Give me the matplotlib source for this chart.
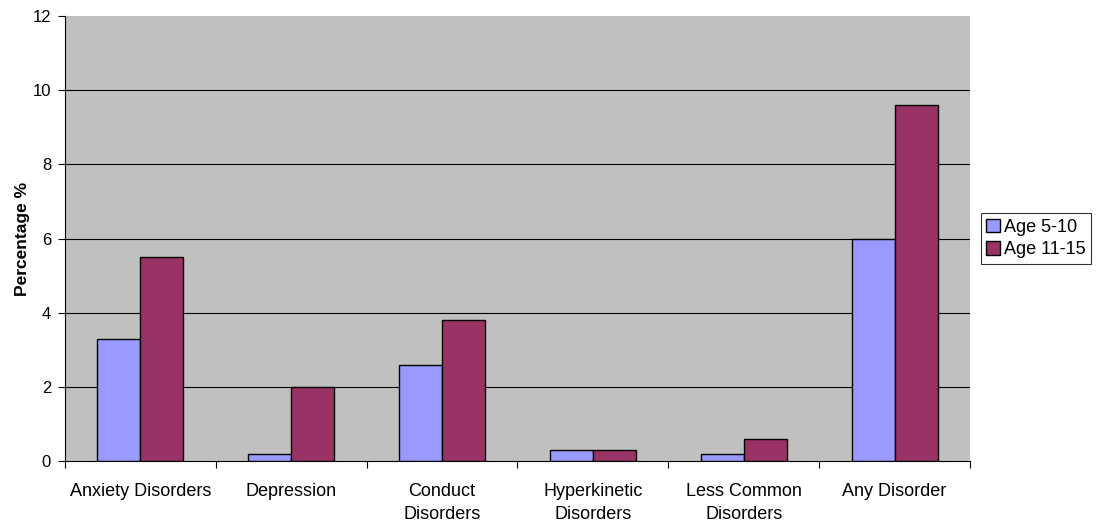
import matplotlib.pyplot as plt
import numpy as np

categories = ["Anxiety Disorders", "Depression", "Conduct\nDisorders",
              "Hyperkinetic\nDisorders", "Less Common\nDisorders", "Any Disorder"]
age_5_10 = [3.3, 0.2, 2.6, 0.3, 0.2, 6.0]
age_11_15 = [5.5, 2.0, 3.8, 0.3, 0.6, 9.6]
series_labels = ["Age 5-10", "Age 11-15"]
y_ticks = [0, 2, 4, 6, 8, 10, 12]

plt.rcParams['font.family'] = ['Liberation Sans', 'DejaVu Sans']

fig = plt.figure(figsize=(10.96, 5.22), dpi=100)
ax = fig.add_axes([0.0593, 0.1169, 0.8257, 0.8524])
ax.set_facecolor('#C0C0C0')

x = np.arange(len(categories))
w = 0.285
ax.bar(x - w/2, age_5_10, w, color='#9999FF', edgecolor='black', linewidth=1, label=series_labels[0], zorder=3)
ax.bar(x + w/2, age_11_15, w, color='#993366', edgecolor='black', linewidth=1, label=series_labels[1], zorder=3)

ax.set_xlim(-0.5, len(categories) - 0.5)
ax.set_ylim(0, 12)
ax.set_yticks(y_ticks)
ax.tick_params(axis='y', labelsize=12, direction='out', length=5, width=0.8, pad=5)
ax.yaxis.grid(True, color='black', linewidth=0.8, zorder=1)
ax.get_ygridlines()[-1].set_visible(False)
ax.get_ygridlines()[0].set_visible(False)

# category labels centred, separator ticks between groups
ax.set_xticks(x)
ax.set_xticklabels(categories, fontsize=13, linespacing=1.45)
ax.tick_params(axis='x', length=0, pad=16)
ax.set_xticks(np.arange(len(categories) + 1) - 0.5, minor=True)
ax.tick_params(axis='x', which='minor', direction='out', length=5, width=0.8)

ax.set_ylabel("Percentage %", fontsize=12.5, fontweight='bold', labelpad=2)

for s in ['top', 'right']:
    ax.spines[s].set_visible(False)
for s in ['left', 'bottom']:
    ax.spines[s].set_color('black')
    ax.spines[s].set_linewidth(0.8)

leg = ax.legend(loc='center left', bbox_to_anchor=(1.012, 0.5), fontsize=13, frameon=True,
                fancybox=False, edgecolor='black', handlelength=0.75, handleheight=0.75,
                handletextpad=0.25, borderpad=0.3, labelspacing=0.3, borderaxespad=0)
leg.get_frame().set_linewidth(0.8)

fig.savefig("out.png", dpi=100)
